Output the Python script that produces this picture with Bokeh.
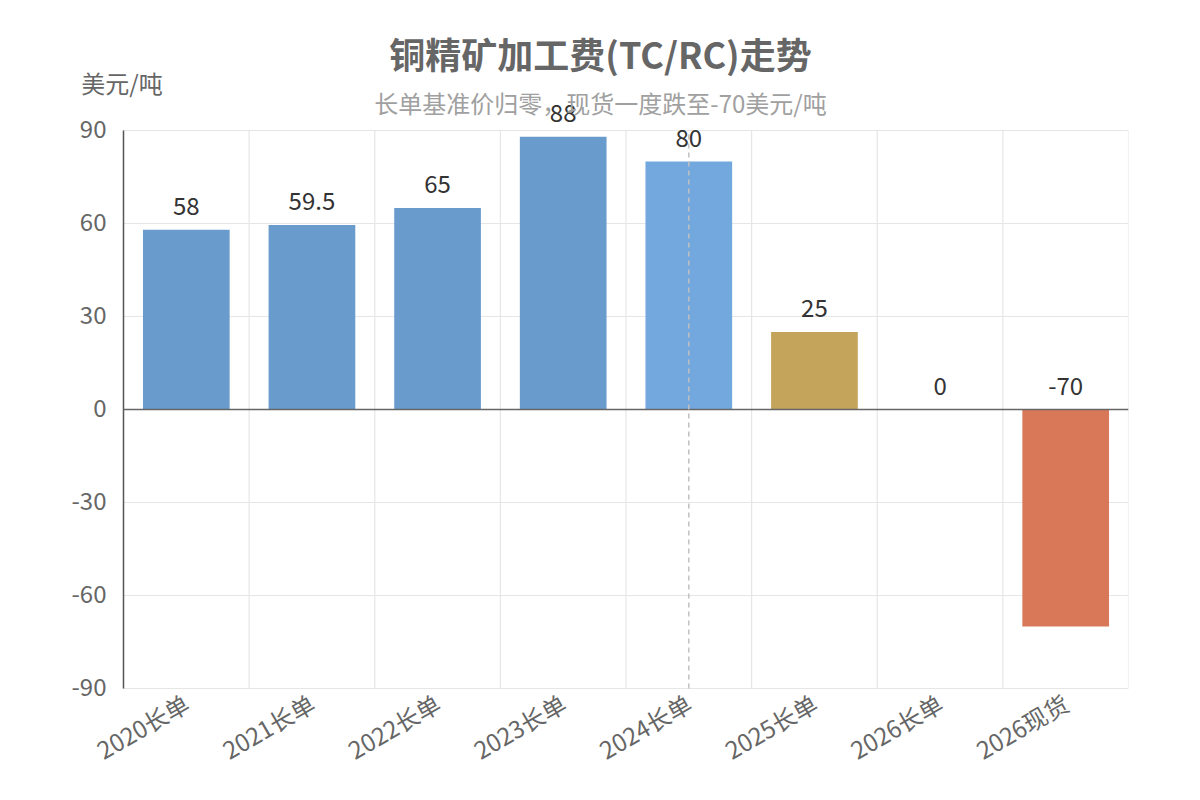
import math
from bokeh.plotting import figure
from bokeh.models import Range1d, FixedTicker, ColumnDataSource
from bokeh.core.properties import value
from bokeh.embed import file_html
from bokeh.resources import INLINE

categories = ["2020长单", "2021长单", "2022长单", "2023长单", "2024长单", "2025长单", "2026长单", "2026现货"]
values = [58, 59.5, 65, 88, 80, 25, 0, -70]
value_labels = ["58", "59.5", "65", "88", "80", "25", "0", "-70"]
colors = ["#6a9bcd", "#6a9bcd", "#6a9bcd", "#6a9bcd", "#73a8de", "#c4a35a", "#c4a35a", "#d97858"]
y_ticks = [-90, -60, -30, 0, 30, 60, 90]
y_tick_labels = ["-90", "-60", "-30", "0", "30", "60", "90"]
highlight_index = 4

title_text = "铜精矿加工费(TC/RC)走势"
subtitle_text = "长单基准价归零，现货一度跌至-70美元/吨"
unit_text = "美元/吨"

FONT = "Noto Sans CJK SC"
n = len(categories)
xs = [i + 0.5 for i in range(n)]
label_y = [max(v, 0) for v in values]
y_min, y_max = y_ticks[0], y_ticks[-1]

# layout (pixels)
W, H = 1200, 800
GRID_LEFT, RIGHT, GRID_BOTTOM, GRID_TOP = 123, 72, 112, 130
EXTRA_BOTTOM = 16          # frame extends a bit below the value grid so "-90" is not clipped
px_per_unit_y = (H - GRID_BOTTOM - GRID_TOP) / (y_max - y_min)
px_per_cat = (W - RIGHT - GRID_LEFT) / n
y_end = y_max + GRID_TOP / px_per_unit_y
y_start = y_min - EXTRA_BOTTOM / px_per_unit_y
x_start = -GRID_LEFT / px_per_cat

src = ColumnDataSource(dict(x=xs, top=values, color=colors, ly=label_y, lab=value_labels))

p = figure(width=W, height=H, output_backend="svg", toolbar_location=None, title=None,
           x_range=Range1d(x_start, n), y_range=Range1d(y_start, y_end),
           min_border_left=0, min_border_right=RIGHT, min_border_top=0,
           min_border_bottom=GRID_BOTTOM - EXTRA_BOTTOM)
p.outline_line_color = None
p.background_fill_color = "white"
p.yaxis.visible = False

# grids
p.xgrid.visible = False
p.ygrid.ticker = FixedTicker(ticks=y_ticks)
p.ygrid.grid_line_color = "#e6e6e6"
p.ygrid.grid_line_width = 1.2
bounds = list(range(1, n + 1))
p.segment(x0=bounds, x1=bounds, y0=[y_min] * n, y1=[y_max] * n,
          line_color="#e6e6e6", line_width=1.2)
# mask horizontal grid left of the value axis
p.quad(left=[x_start], right=[0], bottom=[y_start], top=[y_end], fill_color="white", line_color=None)

# x axis
xa = p.xaxis[0]
xa.ticker = FixedTicker(ticks=xs)
xa.major_label_overrides = {x: c for x, c in zip(xs, categories)}
xa.axis_line_color = None
xa.major_tick_line_color = None
xa.minor_tick_line_color = None
xa.major_tick_out = 0
xa.major_tick_in = 0
xa.major_label_orientation = math.pi / 6
xa.major_label_text_font = FONT
xa.major_label_text_font_size = "24px"
xa.major_label_text_color = "#666666"
xa.major_label_standoff = 12 - EXTRA_BOTTOM

# value axis: line + tick labels
p.segment(x0=[0], x1=[0], y0=[y_min], y1=[y_max], line_color="#555555", line_width=1.5)
p.text(x=[0] * len(y_ticks), y=y_ticks, text=y_tick_labels, x_offset=-17, y_offset=-2,
       text_align="right", text_baseline="middle", text_font=value(FONT),
       text_font_size="24px", text_color="#666666")

# bars
p.vbar(x="x", top="top", bottom=0, width=0.69, fill_color="color", line_color=None, source=src)

# zero line
p.segment(x0=[0], x1=[n], y0=[0], y1=[0], line_color="#666666", line_width=1.5)
# hover pointer
p.segment(x0=[xs[highlight_index]], x1=[xs[highlight_index]], y0=[y_min], y1=[y_max],
          line_color="#c0c0c0", line_width=1.5, line_dash="5 4")

# value labels
p.text(x="x", y="ly", text="lab", source=src, text_align="center",
       text_baseline="alphabetic", y_offset=-24, text_font=value(FONT),
       text_font_size="24px", text_color="#333333")

# titles
p.text(x=[n / 2], y=[y_max], text=[title_text], x_offset=-25.5, y_offset=-78,
       text_align="center", text_baseline="middle", text_font=value(FONT),
       text_font_size="36px", text_font_style="bold", text_color="#666666")
p.text(x=[n / 2], y=[y_max], text=[subtitle_text], x_offset=-25.5, y_offset=-28,
       text_align="center", text_baseline="middle", text_font=value(FONT),
       text_font_size="24px", text_color="#a0a0a0")
p.text(x=[0], y=[y_max], text=[unit_text], x_offset=-1.5, y_offset=-48,
       text_align="center", text_baseline="middle", text_font=value(FONT),
       text_font_size="24px", text_color="#666666")

open("out.html", "w").write(file_html(p, INLINE))
